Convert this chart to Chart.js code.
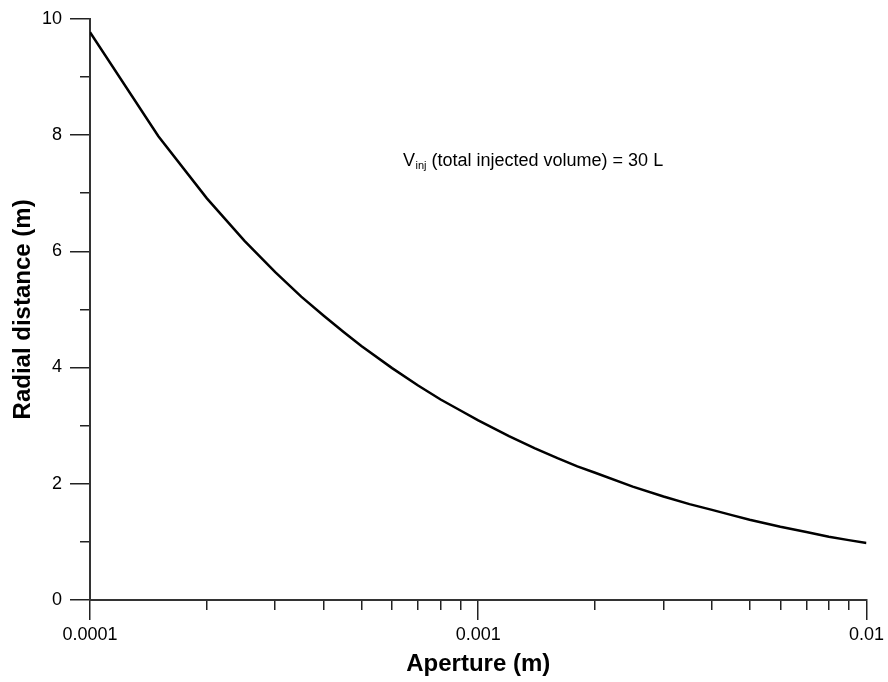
<!DOCTYPE html>
<html>
<head>
<meta charset="utf-8">
<script src="https://cdn.jsdelivr.net/npm/chart.js@4/dist/chart.umd.min.js"></script>
<style>
  html, body { margin: 0; padding: 0; background: #fff; }
  #wrap { width: 888px; height: 682px; }
</style>
</head>
<body>
<div id="wrap"><canvas id="c" width="888" height="682"></canvas></div>
<script>
// ---- data ----
const apertures = [0.0001, 0.00015, 0.0002, 0.00025, 0.0003, 0.00035, 0.0004, 0.00045, 0.0005,
  0.0006, 0.0007, 0.0008, 0.0009, 0.001, 0.0012, 0.0014, 0.0016, 0.0018, 0.002, 0.0025,
  0.003, 0.0035, 0.004, 0.0045, 0.005, 0.006, 0.007, 0.008, 0.009, 0.01];
const radialDistance = [9.77, 7.98, 6.91, 6.18, 5.64, 5.22, 4.89, 4.61, 4.37,
  3.99, 3.69, 3.45, 3.26, 3.09, 2.82, 2.61, 2.44, 2.30, 2.19, 1.95,
  1.78, 1.65, 1.55, 1.46, 1.38, 1.26, 1.17, 1.09, 1.03, 0.98];

const xMajorTicks = [0.0001, 0.001, 0.01];
const xTickLabels = ['0.0001', '0.001', '0.01'];
const xMinorTicks = [0.0002, 0.0003, 0.0004, 0.0005, 0.0006, 0.0007, 0.0008, 0.0009,
  0.002, 0.003, 0.004, 0.005, 0.006, 0.007, 0.008, 0.009];
const yMajorTicks = [0, 2, 4, 6, 8, 10];
const yTickLabels = ['0', '2', '4', '6', '8', '10'];
const yMinorTicks = [1, 3, 5, 7, 9];

const xTitle = 'Aperture (m)';
const yTitle = 'Radial distance (m)';
const noteMain = 'V';
const noteSub = 'inj';
const noteRest = ' (total injected volume) = 30 L';

const FONT = '"Liberation Sans", Arial, Helvetica, sans-serif';

const annotation = {
  id: 'annotation',
  afterDraw(chart) {
    const ctx = chart.ctx;
    ctx.save();
    ctx.fillStyle = '#000';
    ctx.textBaseline = 'alphabetic';
    ctx.textAlign = 'left';
    let x = 403, y = 166;
    ctx.font = '18px ' + FONT;
    ctx.fillText(noteMain, x, y);
    x += ctx.measureText(noteMain).width;
    ctx.font = '11px ' + FONT;
    ctx.fillText(noteSub, x + 0.5, y + 3);
    x += ctx.measureText(noteSub).width + 0.5;
    ctx.font = '18px ' + FONT;
    ctx.fillText(noteRest, x, y);
    ctx.restore();
  }
};

new Chart(document.getElementById('c'), {
  type: 'line',
  data: {
    datasets: [{
      data: apertures.map((a, i) => ({ x: a, y: radialDistance[i] })),
      borderColor: '#000',
      borderWidth: 2.5,
      pointRadius: 0,
      tension: 0,
      fill: false,
      xAxisID: 'x',
      yAxisID: 'y'
    }]
  },
  options: {
    responsive: false,
    animation: false,
    devicePixelRatio: 1,
    layout: { padding: { top: 17, right: 21, left: 0, bottom: 0 } },
    plugins: { legend: { display: false }, tooltip: { enabled: false } },
    scales: {
      x: {
        type: 'logarithmic', position: 'bottom', weight: 1,
        min: 0.0001, max: 0.01,
        afterBuildTicks(s) { s.ticks = xMajorTicks.map(v => ({ value: v, major: true })); },
        afterFit(s) { s.height = 82; },
        ticks: {
          autoSkip: false, maxRotation: 0, padding: 4, color: '#000',
          font: { family: FONT, size: 18 },
          callback(v, i) { return xTickLabels[i]; }
        },
        grid: { drawOnChartArea: false, drawTicks: true, tickLength: 20, color: '#222', lineWidth: 1.5 },
        border: { display: true, color: '#333', width: 2 },
        title: { display: true, text: xTitle, color: '#000', padding: { top: 0, bottom: 3 },
          font: { family: FONT, size: 24, weight: 'bold' } }
      },
      xMinor: {
        type: 'logarithmic', position: 'bottom', weight: 0,
        min: 0.0001, max: 0.01,
        afterBuildTicks(s) { s.ticks = xMinorTicks.map(v => ({ value: v })); },
        afterFit(s) { s.height = 0; },
        ticks: { display: false },
        grid: { drawOnChartArea: false, drawTicks: true, tickLength: 10, color: '#222', lineWidth: 1.5 },
        border: { display: false }
      },
      y: {
        type: 'linear', position: 'left', weight: 1,
        min: 0, max: 10,
        afterBuildTicks(s) { s.ticks = yMajorTicks.map(v => ({ value: v })); },
        afterFit(s) { s.width = 90; },
        ticks: {
          padding: 8, color: '#000',
          font: { family: FONT, size: 18 },
          callback(v, i) { return yTickLabels[i]; }
        },
        grid: { drawOnChartArea: false, drawTicks: true, tickLength: 20, color: '#222', lineWidth: 1.5 },
        border: { display: true, color: '#333', width: 2 },
        title: { display: true, text: yTitle, color: '#000', padding: { top: 9, bottom: 0 },
          font: { family: FONT, size: 24, weight: 'bold' } }
      },
      yMinor: {
        type: 'linear', position: 'left', weight: 0,
        min: 0, max: 10,
        afterBuildTicks(s) { s.ticks = yMinorTicks.map(v => ({ value: v })); },
        afterFit(s) { s.width = 0; },
        ticks: { display: false },
        grid: { drawOnChartArea: false, drawTicks: true, tickLength: 10, color: '#222', lineWidth: 1.5 },
        border: { display: false }
      }
    }
  },
  plugins: [annotation]
});
</script>
</body>
</html>
